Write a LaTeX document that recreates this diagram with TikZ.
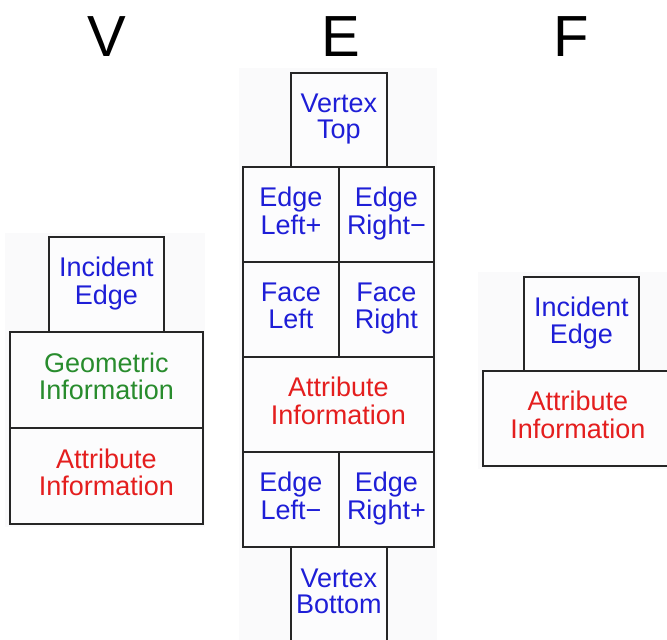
\documentclass[tikz,border=0pt]{standalone}
\usepackage{fontspec}
\setmainfont{Liberation Sans}
\definecolor{tblue}{RGB}{30,30,215}
\definecolor{tgreen}{RGB}{40,140,45}
\definecolor{tred}{RGB}{228,30,30}
\definecolor{boxfill}{RGB}{252,252,253}
\definecolor{backfill}{RGB}{250,250,251}
\newcommand{\two}[2]{\strut #1\\\strut #2}
\begin{document}
\begin{tikzpicture}[x=1pt,y=-1pt,
  box/.style={draw=black!85,line width=1.8pt,fill=boxfill,inner sep=0pt,align=center,
    font=\fontsize{27}{24.5}\selectfont,anchor=north west},
  bl/.style={text=tblue},
  gr/.style={text=tgreen},
  rd/.style={text=tred},
  ttl/.style={font=\fontsize{58}{58}\selectfont,anchor=base,inner sep=0pt}]
\useasboundingbox (0,0) rectangle (667,640);
% faint backdrops
\fill[backfill] (5,233) rectangle (205,527);
\fill[backfill] (239,68) rectangle (437,640);
\fill[backfill] (478,272) rectangle (667,469);
% titles
\node[ttl] (tV) at (107,56) {V};
\node[ttl] (tE) at (341,56) {E};
\node[ttl] (tF) at (571,56) {F};
% V
\node[box,bl,minimum width=115pt,minimum height=95pt] (vinc) at (48,236) {\two{Incident}{Edge}};
\node[box,gr,minimum width=193pt,minimum height=96pt] (vgeo) at (9,331) {\two{Geometric}{Information}};
\node[box,rd,minimum width=193pt,minimum height=96pt] (vatt) at (9,427) {\two{Attribute}{Information}};
% E
\node[box,bl,minimum width=96pt,minimum height=94pt] (evt) at (290,72) {\two{Vertex}{Top}};
\node[box,bl,minimum width=96pt,minimum height=95pt] (eelp) at (242,166) {\two{Edge}{Left+}};
\node[box,bl,minimum width=95pt,minimum height=95pt] (eerm) at (338,166) {\two{Edge}{Right−}};
\node[box,bl,minimum width=96pt,minimum height=95pt] (efl) at (242,261) {\two{Face}{Left}};
\node[box,bl,minimum width=95pt,minimum height=95pt] (efr) at (338,261) {\two{Face}{Right}};
\node[box,rd,minimum width=191pt,minimum height=95pt] (eatt) at (242,356) {\two{Attribute}{Information}};
\node[box,bl,minimum width=96pt,minimum height=95pt] (eelm) at (242,451) {\two{Edge}{Left−}};
\node[box,bl,minimum width=95pt,minimum height=95pt] (eerp) at (338,451) {\two{Edge}{Right+}};
\node[box,bl,minimum width=96pt,minimum height=96pt] (evb) at (290,546) {\two{Vertex}{Bottom}};
% F
\node[box,bl,minimum width=115pt,minimum height=94pt] (finc) at (523,276) {\two{Incident}{Edge}};
\node[box,rd,minimum width=190pt,minimum height=95pt] (fatt) at (482,370) {\two{Attribute}{Information}};
\end{tikzpicture}
\end{document}
